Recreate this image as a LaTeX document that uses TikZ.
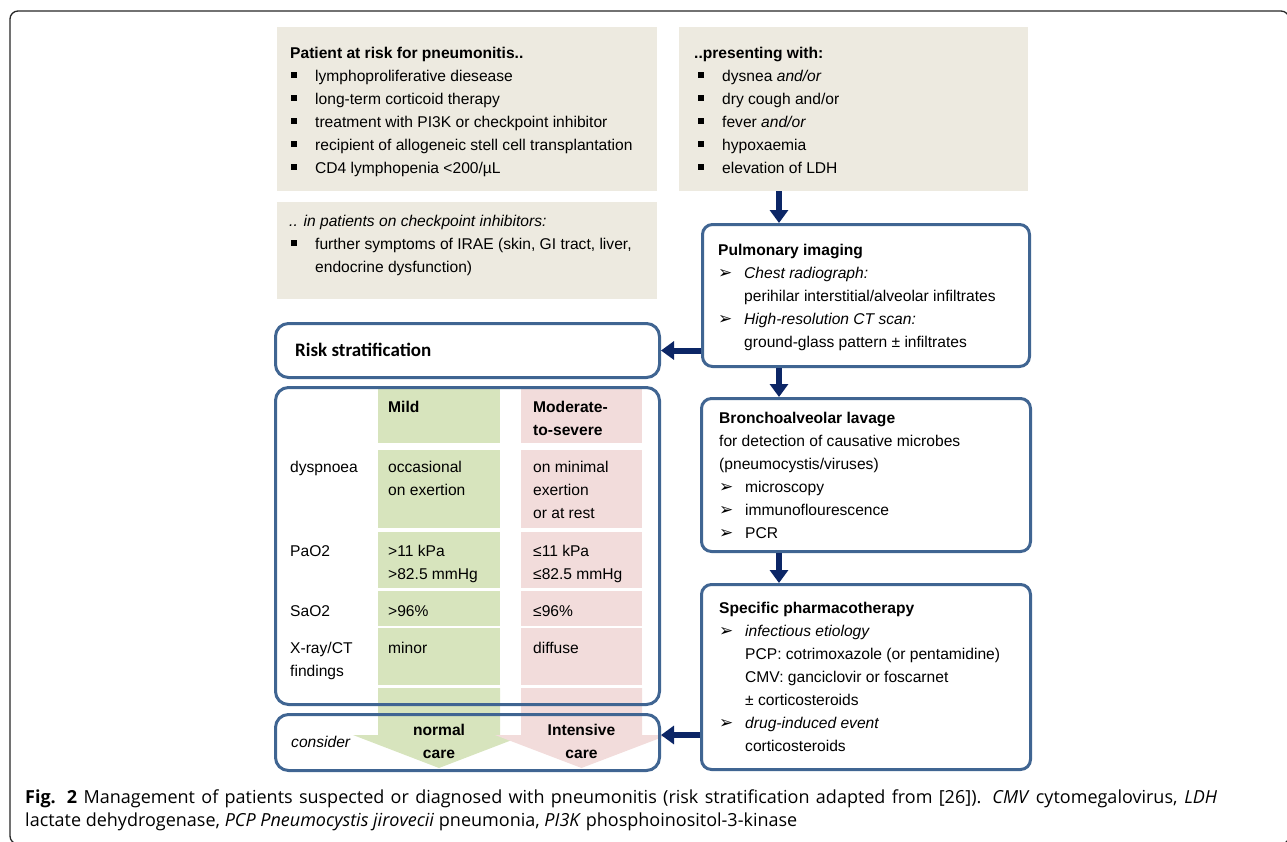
\documentclass[tikz,border=0pt]{standalone}
\usepackage{fontspec}
\setmainfont{Liberation Sans}
\newfontfamily\capfont{Open Sans}
\newfontfamily\riskfont{Carlito}
\newfontfamily\dingfont{DejaVu Sans}
\usetikzlibrary{arrows.meta}
\definecolor{notebeige}{RGB}{237,234,224}
\definecolor{mildgreen}{RGB}{215,228,189}
\definecolor{severepink}{RGB}{242,220,219}
\definecolor{boxblue}{RGB}{64,101,146}
\definecolor{arrownavy}{RGB}{12,38,102}
\newcommand{\sqbullet}{\makebox[25pt][l]{\hspace{1pt}\raisebox{3.5pt}{\rule{5.5pt}{5.5pt}}}}
\newcommand{\arrbullet}{\makebox[26pt][l]{\dingfont\fontsize{17}{23}\selectfont ➢}}
\newcommand{\goon}{\hspace*{26pt}}

\begin{document}
\begin{tikzpicture}[x=1pt, y=-1pt,
    txt/.style={font=\fontsize{15.6}{23}\selectfont, inner sep=0pt, align=left, anchor=base west},
    notebox/.style={fill=notebeige, inner sep=0pt, anchor=north west},
    flowbox/.style={draw=boxblue, line width=3pt, rounded corners=10pt, inner sep=0pt, anchor=north west},
    stratbox/.style={flowbox, rounded corners=13pt},
    flowarrow/.style={arrownavy, line width=6pt, -{Triangle[length=13pt,width=18pt]}}
  ]
  \useasboundingbox (0,0) rectangle (1287,841);
  \draw[black!85, line width=1.3pt, rounded corners=8pt] (10,11) rectangle (1289,844);

  \node[notebox, minimum width=380pt, minimum height=164pt] (atrisk) at (277,27) {};
  \node[notebox, minimum width=380pt, minimum height=97pt] (irae) at (277,202) {};
  \node[notebox, minimum width=349pt, minimum height=164pt] (presenting) at (679,27) {};

  \fill[mildgreen] (378,389) rectangle (500,443);
  \fill[mildgreen] (378,450) rectangle (500,528);
  \fill[mildgreen] (378,532) rectangle (500,588);
  \fill[mildgreen] (378,591) rectangle (500,626);
  \fill[mildgreen] (378,628) rectangle (500,685);
  \fill[mildgreen] (378,688) -- (500,688) -- (500,735) -- (525,735) -- (439,768)
    -- (353,735) -- (378,735) -- cycle;
  \fill[severepink] (521,389) rectangle (642,443);
  \fill[severepink] (521,450) rectangle (642,528);
  \fill[severepink] (521,532) rectangle (642,588);
  \fill[severepink] (521,591) rectangle (642,626);
  \fill[severepink] (521,628) rectangle (642,685);
  \fill[severepink] (521,688) -- (642,688) -- (642,735) -- (668,735) -- (581.5,768)
    -- (495,735) -- (521,735) -- cycle;

  \node[stratbox, minimum width=384pt, minimum height=54pt] (riskbox) at (274,322) {};
  \node[stratbox, minimum width=384pt, minimum height=317pt] (table) at (274,386) {};
  \node[stratbox, minimum width=384pt, minimum height=56pt] (consider) at (274,713) {};
  \node[flowbox, minimum width=327pt, minimum height=142pt] (imaging) at (701,223) {};
  \node[flowbox, minimum width=329pt, minimum height=153pt] (lavage) at (700,397) {};
  \node[flowbox, minimum width=329pt, minimum height=185pt] (pharma) at (700,583) {};

  \coordinate (spine) at (779,0);
  \coordinate (careline) at (0,735);
  \draw[flowarrow] (presenting.south -| spine) -- (imaging.north -| spine);
  \draw[flowarrow] (imaging.south -| spine) -- (lavage.north -| spine);
  \draw[flowarrow] (lavage.south -| spine) -- (pharma.north -| spine);
  \draw[flowarrow] (imaging.west |- riskbox.east) -- (riskbox.east);
  \draw[flowarrow] (pharma.west |- careline) -- (consider.east |- careline);

  % multi-line nodes sit on the baseline of their last line
  \node[txt] (atrisk-text) at (290,173) {\textbf{Patient at risk for pneumonitis..}\\
    \sqbullet lymphoproliferative diesease\\
    \sqbullet long-term corticoid therapy\\
    \sqbullet treatment with PI3K or checkpoint inhibitor\\
    \sqbullet recipient of allogeneic stell cell transplantation\\
    \sqbullet CD4 lymphopenia <200/µL};
  \node[txt] (irae-text) at (289,272) {\textit{.. in patients on checkpoint inhibitors:}\\
    \hspace*{1pt}\sqbullet further symptoms of IRAE (skin, GI tract, liver,\\
    \hspace*{26pt}endocrine dysfunction)};
  \node[txt] (presenting-text) at (694,173) {\textbf{..presenting with:}\\
    \hspace*{3pt}\sqbullet dysnea \textit{and/or}\\
    \hspace*{3pt}\sqbullet dry cough and/or\\
    \hspace*{3pt}\sqbullet fever \textit{and/or}\\
    \hspace*{3pt}\sqbullet hypoxaemia\\
    \hspace*{3pt}\sqbullet elevation of LDH};
  \node[txt] (imaging-text) at (718,347) {\textbf{Pulmonary imaging}\\
    \arrbullet\textit{Chest radiograph:}\\
    \goon perihilar interstitial/alveolar infiltrates\\
    \arrbullet\textit{High-resolution CT scan:}\\
    \goon ground-glass pattern ± infiltrates};
  \node[txt] (lavage-text) at (719,538) {\textbf{Bronchoalveolar lavage}\\
    for detection of causative microbes\\
    (pneumocystis/viruses)\\
    \arrbullet microscopy\\
    \arrbullet immunoflourescence\\
    \arrbullet PCR};
  \node[txt] (pharma-text) at (719,751) {\textbf{Specific pharmacotherapy}\\
    \arrbullet\textit{infectious etiology}\\
    \goon PCP: cotrimoxazole (or pentamidine)\\
    \goon CMV: ganciclovir or foscarnet\\
    \goon ± corticosteroids\\
    \arrbullet\textit{drug-induced event}\\
    \goon corticosteroids};

  \node[anchor=base west, inner sep=0pt, font=\riskfont\bfseries\fontsize{19}{23}\selectfont]
    (risktitle) at (295,356) {Risk stratification};

  \node[txt] (mildhead) at (388,412) {\textbf{Mild}};
  \node[txt] (severehead) at (533,435) {\textbf{Moderate-}\\\textbf{to-severe}};
  \node[txt] (dyspnoea) at (290,472) {dyspnoea};
  \node[txt] (dyspnoea-mild) at (388,495) {occasional\\on exertion};
  \node[txt] (dyspnoea-severe) at (533,518) {on minimal\\exertion\\or at rest};
  \node[txt] (pao) at (290,556) {PaO2};
  \node[txt] (pao-mild) at (388,579) {>11 kPa\\>82.5 mmHg};
  \node[txt] (pao-severe) at (533,579) {≤11 kPa\\≤82.5 mmHg};
  \node[txt] (sao) at (290,616) {SaO2};
  \node[txt] (sao-mild) at (388,616) {>96\%};
  \node[txt] (sao-severe) at (533,616) {≤96\%};
  \node[txt] (xray) at (290,676) {X-ray/CT\\findings};
  \node[txt] (xray-mild) at (388,653) {minor};
  \node[txt] (xray-severe) at (533,653) {diffuse};
  \node[txt] (consider-text) at (291,747) {\textit{consider}};
  \node[txt, align=center, anchor=base] (normalcare) at (439,758) {\textbf{normal}\\\textbf{care}};
  \node[txt, align=center, anchor=base] (intensivecare) at (581.5,758) {\textbf{Intensive}\\\textbf{care}};

  \node[anchor=base west, inner sep=0pt, align=left, font=\capfont\fontsize{18}{23}\selectfont]
    (caption) at (25,826) {\makebox[1192pt][s]{\textbf{Fig. 2} Management of patients suspected or diagnosed with pneumonitis (risk stratification adapted from [26]). \textit{CMV} cytomegalovirus, \textit{LDH}}\\
    lactate dehydrogenase, \textit{PCP Pneumocystis jirovecii} pneumonia, \textit{PI3K} phosphoinositol-3-kinase};
\end{tikzpicture}
\end{document}
